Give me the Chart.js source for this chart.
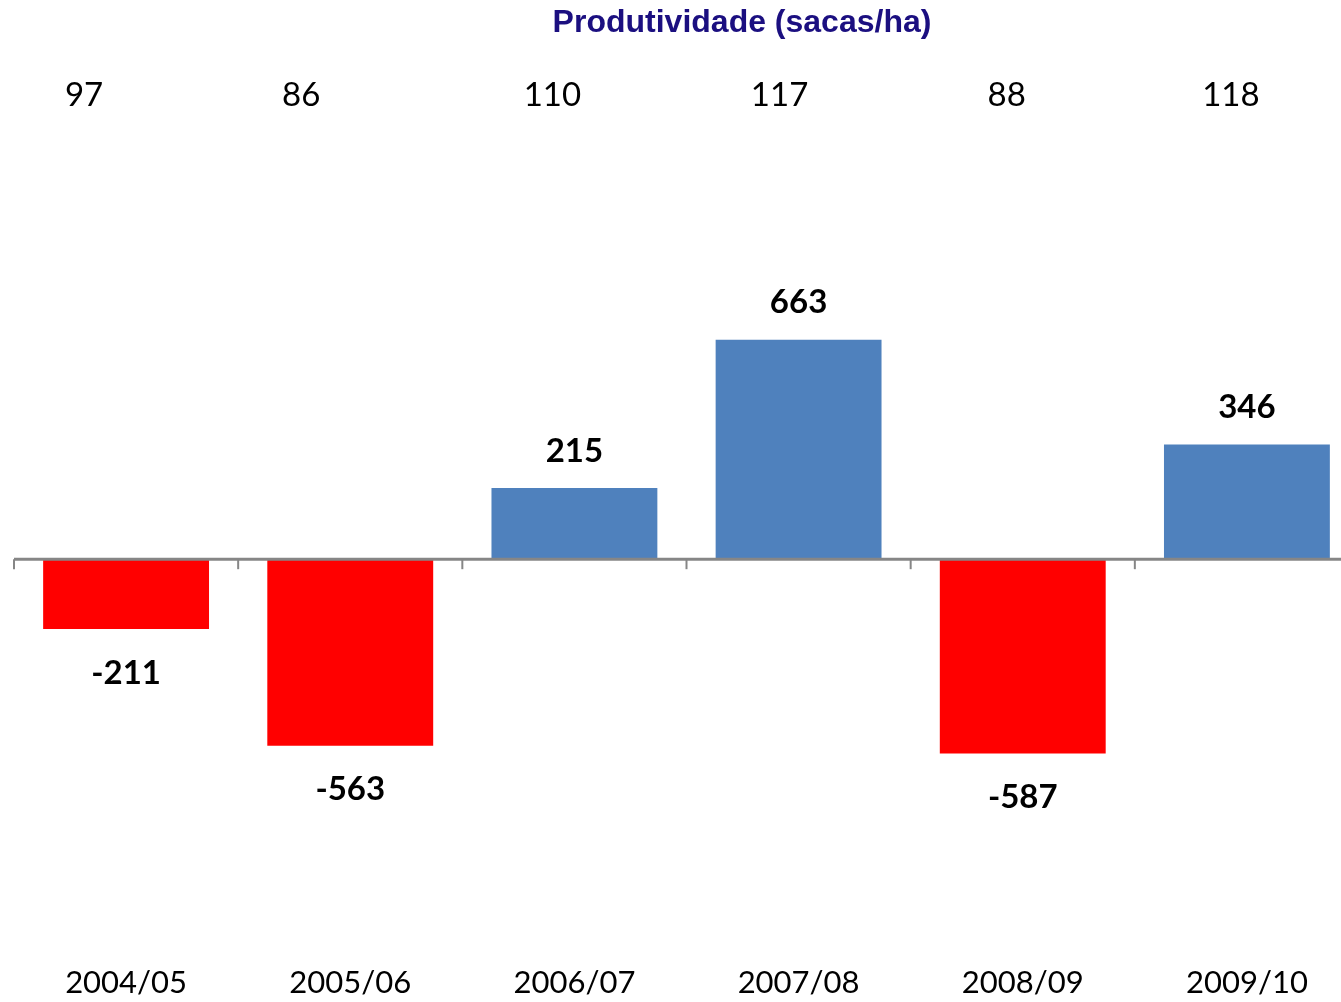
<!DOCTYPE html>
<html>
<head>
<meta charset="utf-8">
<script src="https://cdn.jsdelivr.net/npm/chart.js@4/dist/chart.umd.min.js"></script>
<style>
html,body{margin:0;padding:0;background:#fff;overflow:hidden;width:1341px;height:1002px;}
#wrap{position:absolute;left:0;top:0;width:1360px;height:1002px;}
</style>
</head>
<body>
<div id="wrap"><canvas id="c"></canvas></div>
<script>
const categories = ["2004/05","2005/06","2006/07","2007/08","2008/09","2009/10"];
const values = [-211, -563, 215, 663, -587, 346];
const productivity = ["97","86","110","117","88","118"];
const titleText = "Produtividade (sacas/ha)";
// small horizontal nudges (px) of the productivity labels relative to category centre
const prodNudge = [-42, -49, -22, -19, -16, -16];

const FONT = "Lato, 'Open Sans', sans-serif";

const overlay = {
  id: 'overlay',
  afterDatasetsDraw(chart) {
    const ctx = chart.ctx;
    const xs = chart.scales.x, ys = chart.scales.y;
    const area = chart.chartArea;
    const y0 = ys.getPixelForValue(0);
    ctx.save();
    ctx.strokeStyle = '#868686';
    ctx.lineWidth = 3;
    ctx.beginPath();
    ctx.moveTo(area.left, y0);
    ctx.lineTo(area.right, y0);
    ctx.stroke();
    ctx.lineWidth = 2;
    const n = categories.length;
    const step = xs.getPixelForValue(1) - xs.getPixelForValue(0);
    for (let i = 0; i <= n; i++) {
      const x = xs.getPixelForValue(0) - step / 2 + i * step;
      ctx.beginPath();
      ctx.moveTo(x, y0);
      ctx.lineTo(x, y0 + 10);
      ctx.stroke();
    }
    ctx.fillStyle = '#000';
    ctx.font = "bold 33px " + FONT;
    ctx.textAlign = 'center';
    ctx.textBaseline = 'middle';
    const meta = chart.getDatasetMeta(0);
    meta.data.forEach((bar, i) => {
      const v = values[i];
      const y = v >= 0 ? bar.y - 37 : bar.y + 44;
      ctx.fillText(String(v), bar.x, y);
    });
    ctx.font = "31px " + FONT;
    categories.forEach((c, i) => {
      ctx.fillText(c, xs.getPixelForValue(i), 983);
    });
    ctx.font = "33px " + FONT;
    productivity.forEach((p, i) => {
      ctx.fillText(p, xs.getPixelForValue(i) + prodNudge[i], 95);
    });
    ctx.fillStyle = '#1b0f80';
    ctx.font = "bold 32px 'Liberation Sans', Arial, sans-serif";
    ctx.fillText(titleText, 742, 23);
    ctx.restore();
  }
};

new Chart(document.getElementById('c'), {
  type: 'bar',
  data: {
    labels: categories,
    datasets: [{
      data: values,
      backgroundColor: values.map(v => v >= 0 ? '#4f81bd' : '#ff0000'),
      borderWidth: 0,
      barPercentage: 0.74,
      categoryPercentage: 1.0
    }]
  },
  options: {
    responsive: true,
    maintainAspectRatio: false,
    animation: false,
    layout: { padding: { left: 14, right: 1, top: 132, bottom: 60 } },
    plugins: { legend: { display: false }, tooltip: { enabled: false }, title: { display: false } },
    scales: {
      x: { display: false, grid: { display: false } },
      y: { display: false, min: -1156, max: 1290, grid: { display: false } }
    }
  },
  plugins: [overlay]
});
</script>
</body>
</html>
